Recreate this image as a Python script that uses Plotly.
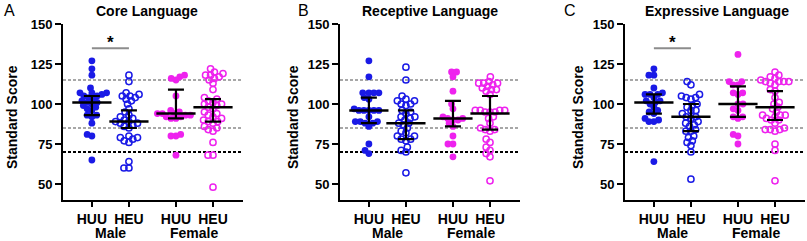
import math
import plotly.graph_objects as go

# ---------------- data ----------------
groups = ["HUU", "HEU", "HUU", "HEU"]
sexes = ["Male", "Female"]
panel_titles = ["Core Language", "Receptive Language", "Expressive Language"]
panel_letters = ["A", "B", "C"]
yticks = [50, 75, 100, 125, 150]

core_m_huu = [127, 122, 118, 110, 107, 107, 107, 106, 105, 105, 104, 103, 102, 101, 101, 100, 99, 98, 97, 96, 93, 93, 92, 88, 81, 80, 65]
core_m_heu = [118, 114, 107, 106, 105, 105, 104, 103, 102, 100, 97, 95, 93, 92, 91, 90, 89, 89, 88, 88, 87, 86, 85, 80, 79, 79, 78, 77, 76, 64, 60, 60]
core_f_huu = [118, 117, 116, 115, 105, 96, 95, 94, 94, 94, 93, 93, 92, 92, 91, 91, 81, 80, 80, 68]
core_f_heu = [122, 120, 119, 118, 118, 117, 116, 115, 113, 109, 104, 103, 102, 101, 100, 100, 99, 98, 97, 95, 94, 93, 92, 91, 90, 89, 89, 88, 86, 85, 84, 83, 76, 68, 68, 48]

rec_m_huu = [127, 117, 107, 107, 107, 107, 104, 103, 97, 96, 96, 96, 96, 96, 92, 89, 89, 89, 88, 88, 86, 75, 71, 69]
rec_m_heu = [123, 115, 105, 103, 102, 102, 100, 100, 99, 96, 95, 94, 92, 92, 91, 90, 88, 88, 87, 85, 83, 82, 80, 80, 78, 78, 77, 73, 71, 70, 57]
rec_f_huu = [120, 120, 117, 108, 100, 97, 92, 91, 91, 90, 90, 88, 86, 80, 75, 75, 67]
rec_f_heu = [117, 114, 113, 113, 113, 112, 111, 110, 109, 109, 108, 106, 96, 96, 96, 96, 95, 95, 95, 92, 91, 88, 85, 84, 84, 83, 78, 76, 73, 71, 69, 67, 52]

exp_m_huu = [122, 118, 118, 110, 107, 106, 106, 106, 104, 102, 102, 101, 100, 98, 96, 95, 94, 91, 90, 89, 89, 64]
exp_m_heu = [114, 112, 106, 105, 104, 104, 103, 100, 99, 98, 96, 96, 94, 92, 92, 91, 89, 88, 87, 86, 84, 83, 83, 80, 79, 77, 76, 74, 70, 53]
exp_f_huu = [131, 114, 114, 112, 112, 107, 107, 106, 100, 100, 97, 96, 92, 92, 91, 81, 80, 75]
exp_f_heu = [120, 118, 117, 116, 115, 114, 114, 114, 114, 113, 112, 109, 108, 104, 101, 100, 98, 97, 95, 93, 93, 93, 92, 91, 90, 90, 88, 85, 84, 84, 84, 83, 75, 71, 52]

# median and interquartile range as drawn
core_median = [101, 89, 94, 98]
core_q1 = [93, 85, 91, 89]
core_q3 = [105, 96, 109, 103]
rec_median = [96, 88, 91, 94]
rec_q1 = [88, 78, 86, 84]
rec_q3 = [104, 96, 102, 105]
exp_median = [101, 92, 100, 98]
exp_q1 = [94, 83, 92, 90]
exp_q3 = [106, 100, 111, 108]

ref_lines_gray = [85, 115]
ref_line_black = [70]
significant_pairs = [True, False, True]  # male HUU vs HEU

panels = [
    ([core_m_huu, core_m_heu, core_f_huu, core_f_heu], core_median, core_q1, core_q3),
    ([rec_m_huu, rec_m_heu, rec_f_huu, rec_f_heu], rec_median, rec_q1, rec_q3),
    ([exp_m_huu, exp_m_heu, exp_f_huu, exp_f_heu], exp_median, exp_q1, exp_q3),
]

# ---------------- layout constants ----------------
W, H = 807, 241
POS = [0, 1, 2.27, 3.27]
XR = [-0.78, 4.08]
YR = [40, 150]
x_dom_px = [(63, 243), (340, 520), (625, 805)]
y_top_px, y_bot_px = 24, 200
BLUE = "#1a1ae6"
MAG = "#ee22ee"
colors = [BLUE, BLUE, MAG, MAG]
filled = [True, False, True, False]
FONT = "Liberation Sans, Arial, sans-serif"

plot_w = x_dom_px[0][1] - x_dom_px[0][0]
XPX = plot_w / (XR[1] - XR[0])
YPX = (y_bot_px - y_top_px) / (YR[1] - YR[0])


def swarm(vals, d=5.0):
    placed = []
    out = [0.0] * len(vals)
    order = sorted(range(len(vals)), key=lambda i: vals[i])
    for i in order:
        y = vals[i] * YPX
        iv = []
        for px, py in placed:
            dy = abs(py - y)
            if dy < d:
                w = math.sqrt(d * d - dy * dy)
                iv.append((px - w, px + w))
        cands = [0.0] + [a for a, b in iv] + [b for a, b in iv]
        cands.sort(key=lambda c: (abs(c), c))
        x = 0.0
        for c in cands:
            if all(not (a + 1e-6 < c < b - 1e-6) for a, b in iv):
                x = c
                break
        placed.append((x, y))
        out[i] = x / XPX
    return out


fig = go.Figure()
shapes = []
annotations = []

for p, (series, med, q1, q3) in enumerate(panels):
    xa = "x" if p == 0 else f"x{p+1}"
    ya = "y" if p == 0 else f"y{p+1}"
    for g, vals in enumerate(series):
        offs = swarm(vals)
        xs = [POS[g] + o for o in offs]
        if filled[g]:
            marker = dict(symbol="circle", size=6.8, color=colors[g], line=dict(width=0))
        else:
            marker = dict(symbol="circle-open", size=6.2, color=colors[g], line=dict(width=1.5, color=colors[g]))
        fig.add_trace(go.Scatter(x=xs, y=vals, mode="markers", marker=marker,
                                 xaxis=xa, yaxis=ya, showlegend=False, hoverinfo="y"))
    # median + IQR
    fig.add_trace(go.Scatter(
        x=POS, y=med, mode="markers",
        marker=dict(symbol="line-ew-open", size=28, color="black", line=dict(width=2.5, color="black")),
        error_y=dict(type="data", symmetric=False,
                     array=[b - m for b, m in zip(q3, med)],
                     arrayminus=[m - a for a, m in zip(q1, med)],
                     color="black", thickness=2.2, width=8),
        xaxis=xa, yaxis=ya, showlegend=False, hoverinfo="skip"))

    # reference lines
    for v in ref_lines_gray:
        shapes.append(dict(type="line", xref=f"{xa} domain", yref=ya, x0=0, x1=1, y0=v, y1=v,
                           line=dict(color="#8a8a8a", width=1.6, dash="3px,2px"), layer="below"))
    for v in ref_line_black:
        shapes.append(dict(type="line", xref=f"{xa} domain", yref=ya, x0=0, x1=1, y0=v, y1=v,
                           line=dict(color="black", width=2, dash="3px,2px"), layer="below"))
    # significance
    if significant_pairs[p]:
        shapes.append(dict(type="line", xref=xa, yref=ya, x0=POS[0], x1=POS[1], y0=134.8, y1=134.8,
                           line=dict(color="#8c8c8c", width=2)))
        annotations.append(dict(x=(POS[0] + POS[1]) / 2, y=138.5, xref=xa, yref=ya, text="<b>*</b>",
                                showarrow=False, font=dict(size=17, color="black", family=FONT),
                                xanchor="center", yanchor="middle"))

    x0, x1 = x_dom_px[p]
    fig.layout[f"xaxis{'' if p == 0 else p+1}"] = dict(
        domain=[x0 / W, x1 / W], range=XR, anchor=ya, tickvals=POS, ticktext=groups,
        showline=True, linewidth=2, linecolor="black", ticks="outside", ticklen=5, tickwidth=2,
        tickcolor="black", showgrid=False, zeroline=False, fixedrange=True, automargin=False,
        tickfont=dict(family=FONT, size=14, color="black", weight="bold"))
    fig.layout[f"yaxis{'' if p == 0 else p+1}"] = dict(
        domain=[1 - y_bot_px / H, 1 - y_top_px / H], range=YR, anchor=xa, tickvals=yticks,
        showline=True, linewidth=2, linecolor="black", ticks="outside", ticklen=6, tickwidth=2,
        tickcolor="black", showgrid=False, zeroline=False, fixedrange=True, automargin=False,
        tickfont=dict(family=FONT, size=13, color="black", weight="bold"))

    # Male / Female
    for s, sx in enumerate([(POS[0] + POS[1]) / 2, (POS[2] + POS[3]) / 2]):
        annotations.append(dict(x=sx, y=1 - 233 / H, xref=xa, yref="paper", text=f"<b>{sexes[s]}</b>",
                                showarrow=False, font=dict(size=14, color="black", family=FONT),
                                xanchor="center", yanchor="middle"))

# titles, letters, y titles
title_cx = [147, 430, 717]
letter_cx = [9, 303, 570]
ytitle_cx = [12, 293, 578]
for p in range(3):
    annotations.append(dict(x=title_cx[p] / W, y=1 - 11 / H, xref="paper", yref="paper",
                            text=f"<b>{panel_titles[p]}</b>", showarrow=False,
                            font=dict(size=14, color="black", family=FONT),
                            xanchor="center", yanchor="middle"))
    annotations.append(dict(x=letter_cx[p] / W, y=1 - 11 / H, xref="paper", yref="paper",
                            text=panel_letters[p], showarrow=False,
                            font=dict(size=16, color="black", family=FONT),
                            xanchor="center", yanchor="middle"))
    annotations.append(dict(x=ytitle_cx[p] / W, y=1 - 117 / H, xref="paper", yref="paper",
                            text="<b>Standard Score</b>", showarrow=False, textangle=-90,
                            font=dict(size=14, color="black", family=FONT),
                            xanchor="center", yanchor="middle"))

fig.update_layout(width=W, height=H, margin=dict(l=0, r=0, t=0, b=0, autoexpand=False),
                  paper_bgcolor="white", plot_bgcolor="white",
                  shapes=shapes, annotations=annotations, showlegend=False)

fig.write_html("out.html", config={"displayModeBar": False},
               post_script="document.body.style.margin='0';document.body.style.overflow='hidden';")
